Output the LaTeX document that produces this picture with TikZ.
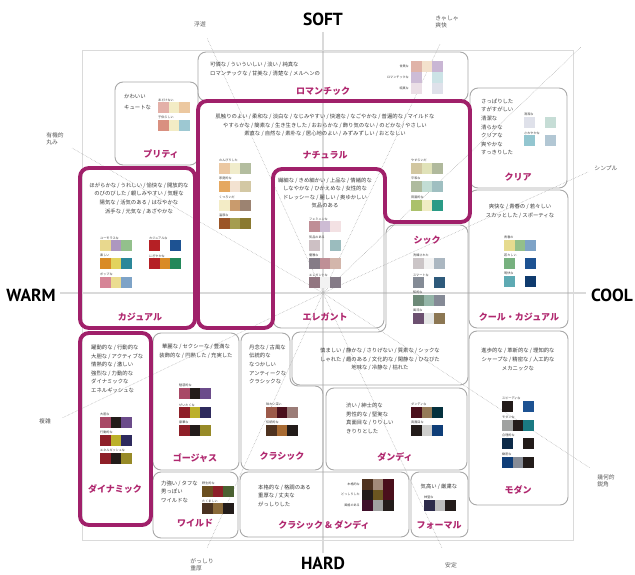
\documentclass[tikz,border=0pt]{standalone}
\usepackage{fontspec}
\setmainfont{Noto Sans CJK JP}
\newfontfamily\polefont{PT Sans}
\usetikzlibrary{calc}

\definecolor{magborder}{HTML}{A0206A}
\definecolor{magtitle}{HTML}{B0286F}
\definecolor{boxgray}{HTML}{A8A8A8}
\definecolor{axisgray}{HTML}{DADADA}
\definecolor{inkgray}{HTML}{3A3A3A}
\definecolor{wordgray}{HTML}{5A5A5A}

\tikzset{
  box/.style={draw=boxgray, line width=0.9pt, rounded corners=8pt},
  magbox/.style={draw=magborder, line width=3.9pt, rounded corners=9pt},
  title/.style={text=magtitle, font=\fontsize{9}{10}\selectfont\bfseries, inner sep=0pt},
  body/.style={text=inkgray, font=\fontsize{5.35}{8.6}\selectfont, inner sep=0pt},
  tag/.style={text=inkgray, font=\fontsize{3.1}{4}\selectfont, inner sep=0pt, anchor=south west, yshift=0.6pt},
  pole/.style={font=\polefont\fontsize{17.5}{18}\selectfont\bfseries, inner sep=0pt},
  outer/.style={text=wordgray, font=\fontsize{5.8}{7.5}\selectfont, align=left, inner sep=0pt},
  ray/.style={draw=gray!70, densely dotted, line width=0.5pt},
}

% one row of colour chips, "-" leaves a chip empty
\def\blankcell{-}
\newcommand{\swatchrow}[3]{%
  \foreach \hex [count=\k from 0] in {#3}{%
    \ifx\hex\blankcell\else
      \edef\setchip{\noexpand\definecolor{chip}{HTML}{\hex}}\setchip
      \fill[chip] ({#1+\k*10.7},#2) rectangle +(10.7,11);
    \fi}}
% chip row with its small caption above
\newcommand{\swatch}[5]{%
  \node[tag] (#1) at (#2,#3) {#4};
  \swatchrow{#2}{#3}{#5}}

\begin{document}
\begin{tikzpicture}[x=1pt, y=-1pt]
	\useasboundingbox (0,0) rectangle (635,575);

	% Frame and axes
	\coordinate (origin) at (323,293);
	\coordinate (soft-end) at (323,32);		\coordinate (hard-end) at (323,553);
	\coordinate (warm-end) at (60,293);		\coordinate (cool-end) at (586,293);
	\draw[axisgray, line width=0.8pt] (82,50) rectangle (573,540);
	\draw[axisgray, line width=1.6pt] (soft-end) -- (hard-end);
	\draw[axisgray, line width=1.6pt] (warm-end) -- (cool-end);

	\node[pole] (soft) at (323,19) {SOFT};
	\node[pole] (hard) at (323,563) {HARD};
	\node[pole] (warm) at (31,295) {WARM};
	\node[pole] (cool) at (612,295) {COOL};

	% Rays to the outer words
	\coordinate (fuyu-end) at (207,38);		\coordinate (kyasha-end) at (440,44);	\coordinate (corner-end) at (581,47);
	\coordinate (yuki-end) at (72,148);		\coordinate (simple-end) at (588,172);
	\coordinate (fukuzatsu-end) at (62,418);	\coordinate (kika-end) at (590,468);
	\coordinate (gasshiri-end) at (207,548);	\coordinate (antei-end) at (442,548);
	\foreach \e in {fuyu-end,kyasha-end,corner-end,yuki-end,simple-end,fukuzatsu-end,kika-end,gasshiri-end,antei-end}
		\draw[ray] (origin) -- (\e);

	\node[outer] (fuyu) at (200,24) {浮遊};
	\node[outer] (kyasha) at (447,22) {きゃしゃ\\爽快};
	\node[outer] (yuki) at (55,139) {有機的\\丸み};
	\node[outer] (simple) at (606,168) {シンプル};
	\node[outer] (fukuzatsu) at (45,421) {複雑};
	\node[outer] (kika) at (606,481) {幾何的\\鋭角};
	\node[outer] (gasshiri) at (202,565) {がっしり\\重厚};
	\node[outer] (antei) at (451,565) {安定};

	% Gray boxes
	\draw[box] (198,52) rectangle (468,101);
	\draw[box] (115,82) rectangle (198,165);
	\draw[box] (273,169) rectangle (384,328);
	\draw[box] (386,225) -- (468,225) -- (468,385) -- (292,385) -- (292,332) -- (386,332) -- cycle;
	\draw[box] (470,88) rectangle (567,188);
	\draw[box] (469,190) rectangle (568,328);
	\draw[box] (153,333) rectangle (239,470);
	\draw[box] (241,333) -- (290,333) -- (290,386) -- (323,386) -- (323,470) -- (241,470) -- cycle;
	\draw[box] (326,388) rectangle (467,470);
	\draw[box] (469,331) rectangle (568,505);
	\draw[box] (153,472) rectangle (238,538);
	\draw[box] (240,472) rectangle (409,537);
	\draw[box] (411,472) rectangle (468,537);

	% Magenta boxes
	\draw[magbox] (80,168) rectangle (195,328);
	\draw[magbox] (198,101) -- (470,101) -- (470,222) -- (385,222) -- (385,169) -- (273,169) -- (273,328) -- (198,328) -- cycle;
	\draw[magbox] (80,333) rectangle (151,525);

	% Romantic
	\node[body, anchor=west, align=left] (romantic-text) at (210,69.5) {可憐な / ういういしい / 淡い / 純真な\\ロマンチックな / 甘美な / 清楚な / メルヘンの};
	\node[title] (romantic) at (323,91) {ロマンチック};
	\node[tag, anchor=east, yshift=0pt] (romantic-t1) at (409,66.5) {甘美な};
	\node[tag, anchor=east, yshift=0pt] (romantic-t2) at (409,77.5) {ロマンチックな};
	\node[tag, anchor=east, yshift=0pt] (romantic-t3) at (409,88.5) {純真な};
	\swatchrow{411}{61}{E0B3A8,F3E1CC,C9B6D4}
	\swatchrow{411}{72}{CDBCD6,-,CCE3E6}
	\swatchrow{411}{83}{EBDFE6,-,DFE1EA}

	% Pretty
	\node[body, anchor=west, align=left] (pretty-text) at (124,102.5) {かわいい\\[2.4pt]キュートな};
	\node[title] (pretty) at (161,154) {プリティ};
	\swatch{pretty-t1}{158}{102}{あどけない}{E3B0A8,F3ECC5,ECC8A0}
	\swatch{pretty-t2}{158}{120}{子供らしい}{D99080,F3ECC5,9DC8D2}

	% Natural
	\node[body, align=center] (natural-text) at (325,125.5) {肌触りのよい / 柔和な / 淡白な / なじみやすい / 快適な / なごやかな / 普遍的な / マイルドな\\やすらかな / 簡素な / 生き生きした / おおらかな / 飾り気のない / のどかな / やさしい\\素直な / 自然な / 素朴な / 居心地のよい / みずみずしい / おとなしい};
	\node[title] (natural) at (325,155) {ナチュラル};
	\swatch{natural-t1}{219}{163}{のんびりした}{EBC8A2,F0ECCB,B3BD9F}
	\swatch{natural-t2}{219}{181}{家庭的な}{E5A860,F3E2D1,D3C8A4}
	\swatch{natural-t3}{219}{200}{くつろいだ}{F3ECC6,C99B6D,9C8371}
	\swatch{natural-t4}{219}{218}{温厚な}{9B5527,A59D4F,8A7930}
	\swatch{natural-t5}{411}{163}{やすらいだ}{D2C7A0,E0E2B8,B0B99C}
	\swatch{natural-t6}{411}{181}{平和な}{AEBB9E,C2DDD4,9FBFC1}
	\swatch{natural-t7}{411}{200}{田園的な}{ABC16B,F0ECC4,2A9B86}

	% Casual
	\node[body, align=center] (casual-text) at (139,198.5) {ほがらかな / うれしい / 愉快な / 開放的な\\のびのびした / 親しみやすい / 気軽な\\陽気な / 活気のある / はなやかな\\派手な / 元気な / あざやかな};
	\node[title] (casual) at (140,317) {カジュアル};
	\swatch{casual-t1}{100}{240}{ユーモラスな}{E8D88E,AD97BF,93C08C}
	\swatch{casual-t2}{149}{240}{カジュアルな}{B52025,-,1D5292}
	\swatch{casual-t3}{100}{258}{楽しい}{D98B25,E2D35D,2B8799}
	\swatch{casual-t4}{149}{258}{にぎやかな}{B52025,D98B25,22885A}
	\swatch{casual-t5}{100}{277}{ポップな}{D68597,EBDC91,7EA3C7}

	% Elegant
	\node[body, align=center] (elegant-text) at (325,193) {繊細な / きめ細かい / 上品な / 情緒的な\\しなやかな / ひかえめな / 女性的な\\ドレッシーな / 麗しい / 奥ゆかしい\\気品のある};
	\node[title] (elegant) at (325,317) {エレガント};
	\swatch{elegant-t1}{309}{221}{フェミニンな}{BF8E96,CDBCD4,F3E1E3}
	\swatch{elegant-t2}{309}{240}{気品のある}{CDC0C4,-,9BBCBE}
	\swatch{elegant-t3}{309}{258}{優雅な}{857C87,BF8F96,D3B6AB}
	\swatch{elegant-t4}{309}{277}{エレガントな}{927681,F2F2F2,857B87}

	% Chic
	\node[title] (chic) at (427,240) {シック};
	\swatch{chic-t1}{413}{258}{洗練された}{CBC5C7,F2F2F2,ABB7C1}
	\swatch{chic-t2}{413}{277}{スマートな}{848B96,-,2E5A7B}
	\swatch{chic-t3}{413}{295}{知的な}{6D8A78,94B5A8,858A96}
	\swatch{chic-t4}{413}{313}{風流な}{6C5070,E5E7E6,8C7753}
	\node[body, align=center] (chic-text) at (380,359.5) {慎ましい / 静かな / さりげない / 質素な / シックな\\しゃれた / 趣のある / 文化的な / 閑静な / ひなびた\\地味な / 冷静な / 枯れた};

	% Clear
	\node[body, anchor=west, align=left] (clear-text) at (481,127) {さっぱりした\\すがすがしい\\清潔な\\清らかな\\クリアな\\爽やかな\\すっきりした};
	\node[title] (clear) at (518,177) {クリア};
	\swatch{clear-t1}{524}{117}{清潔な}{DFE1EA,-,C6DDD6}
	\swatch{clear-t2}{524}{135}{さわやかな}{93C6D0,-,B2C7D4}

	% Cool casual
	\node[body, align=center] (coolcasual-text) at (520,211.5) {爽快な / 青春の / 若々しい\\スカッとした / スポーティな};
	\node[title] (coolcasual) at (519,317) {クール・カジュアル};
	\swatch{coolcasual-t1}{504}{240}{青春の}{E6DB8F,93BF8A,7EA3C7}
	\swatch{coolcasual-t2}{504}{258}{若々しい}{77B17F,-,1D5292}
	\swatch{coolcasual-t3}{504}{276}{明快な}{5EAAB3,-,0F3B6E}

	% Dynamic
	\node[body, anchor=west, align=left] (dynamic-text) at (91,369) {躍動的な / 行動的な\\大胆な / アクティブな\\情熱的な / 激しい\\強烈な / 力動的な\\ダイナミックな\\エネルギッシュな};
	\node[title] (dynamic) at (115,489) {ダイナミック};
	\swatch{dynamic-t1}{100}{417}{大胆な}{A84866,231C1A,6B4B8A}
	\swatch{dynamic-t2}{100}{435}{行動的な}{8E1F28,BCB02A,2E2A5D}
	\swatch{dynamic-t3}{100}{453}{エネルギッシュな}{8E1F28,231C1A,978A28}

	% Gorgeous
	\node[body, align=center] (gorgeous-text) at (196,351) {華麗な / セクシーな / 豊満な\\装飾的な / 円熟した / 充実した};
	\node[title] (gorgeous) at (195,458) {ゴージャス};
	\swatch{gorgeous-t1}{179}{388}{魅惑的な}{A84866,231C1A,6B4B8A}
	\swatch{gorgeous-t2}{179}{407}{ぜいたくな}{8E1F28,BCB02A,2E2A5D}
	\swatch{gorgeous-t3}{179}{425}{豪華な}{8E1F28,231C1A,978A28}

	% Classic
	\node[body, anchor=west, align=left] (classic-text) at (249,364.5) {丹念な / 古風な\\伝統的な\\なつかしい\\アンティークな\\クラシックな};
	\node[title] (classic) at (282,456) {クラシック};
	\swatch{classic-t1}{266}{407}{味わい深い}{9C5A4A,4A0F1C,9B7C77}
	\swatch{classic-t2}{266}{425}{伝統的な}{4F3320,A86B33,231C1A}

	% Dandy
	\node[body, anchor=west, align=left] (dandy-text) at (346,418.5) {渋い / 紳士的な\\男性的な / 堅実な\\真面目な / りりしい\\きりりとした};
	\node[title] (dandy) at (395,457) {ダンディ};
	\swatch{dandy-t1}{411}{407}{ダンディな}{4A0F1C,957A57,04303D}
	\swatch{dandy-t2}{411}{425}{真面目な}{231C1A,CFCFCD,0F3E78}

	% Modern
	\node[body, align=center] (modern-text) at (518,359.5) {進歩的な / 革新的な / 理知的な\\シャープな / 精密な / 人工的な\\メカニックな};
	\node[title] (modern) at (518,490) {モダン};
	\swatch{modern-t1}{502}{401}{スピーディな}{231C1A,-,1D5292}
	\swatch{modern-t2}{502}{420}{モダンな}{A0A2A1,231C1A,1A7A82}
	\swatch{modern-t3}{502}{438}{合理的な}{0D2A48,-,231C1A}
	\swatch{modern-t4}{502}{457}{緻密な}{0F3E78,878C96,231C1A}

	% Wild
	\node[body, anchor=west, align=left] (wild-text) at (161,491.5) {力強い / タフな\\男っぽい\\ワイルドな};
	\node[title] (wild) at (195,523) {ワイルド};
	\swatch{wild-t1}{202}{486}{野生的な}{6B4F1F,8E1F28,4B6131}
	\swatch{wild-t2}{202}{503}{たくましい}{4A3220,8A6A3A,231C1A}

	% Classic & dandy
	\node[body, anchor=west, align=left] (classicdandy-text) at (258,495.5) {本格的な / 格調のある\\重厚な / 丈夫な\\がっしりした};
	\node[title] (classicdandy) at (324,525) {クラシック \& ダンディ};
	\node[tag, anchor=east, yshift=0pt] (classicdandy-t1) at (360,484.5) {本格的な};
	\node[tag, anchor=east, yshift=0pt] (classicdandy-t2) at (360,495) {どっしりした};
	\node[tag, anchor=east, yshift=0pt] (classicdandy-t3) at (360,506) {風格のある};
	\swatchrow{362}{479}{4F3320,A38B7A,4A0F1C}
	\swatchrow{362}{489.7}{231C1A,6B5620,4A0F1C}
	\swatchrow{362}{500.4}{3F0F2A,A0A2A1,231C1A}

	% Formal
	\node[body, align=center] (formal-text) at (439,487) {気高い / 厳粛な};
	\node[title] (formal) at (439,525) {フォーマル};
	\swatch{formal-t1}{424}{500}{神聖な}{2C2A4A,BDBDBD,231C1A}
\end{tikzpicture}
\end{document}
